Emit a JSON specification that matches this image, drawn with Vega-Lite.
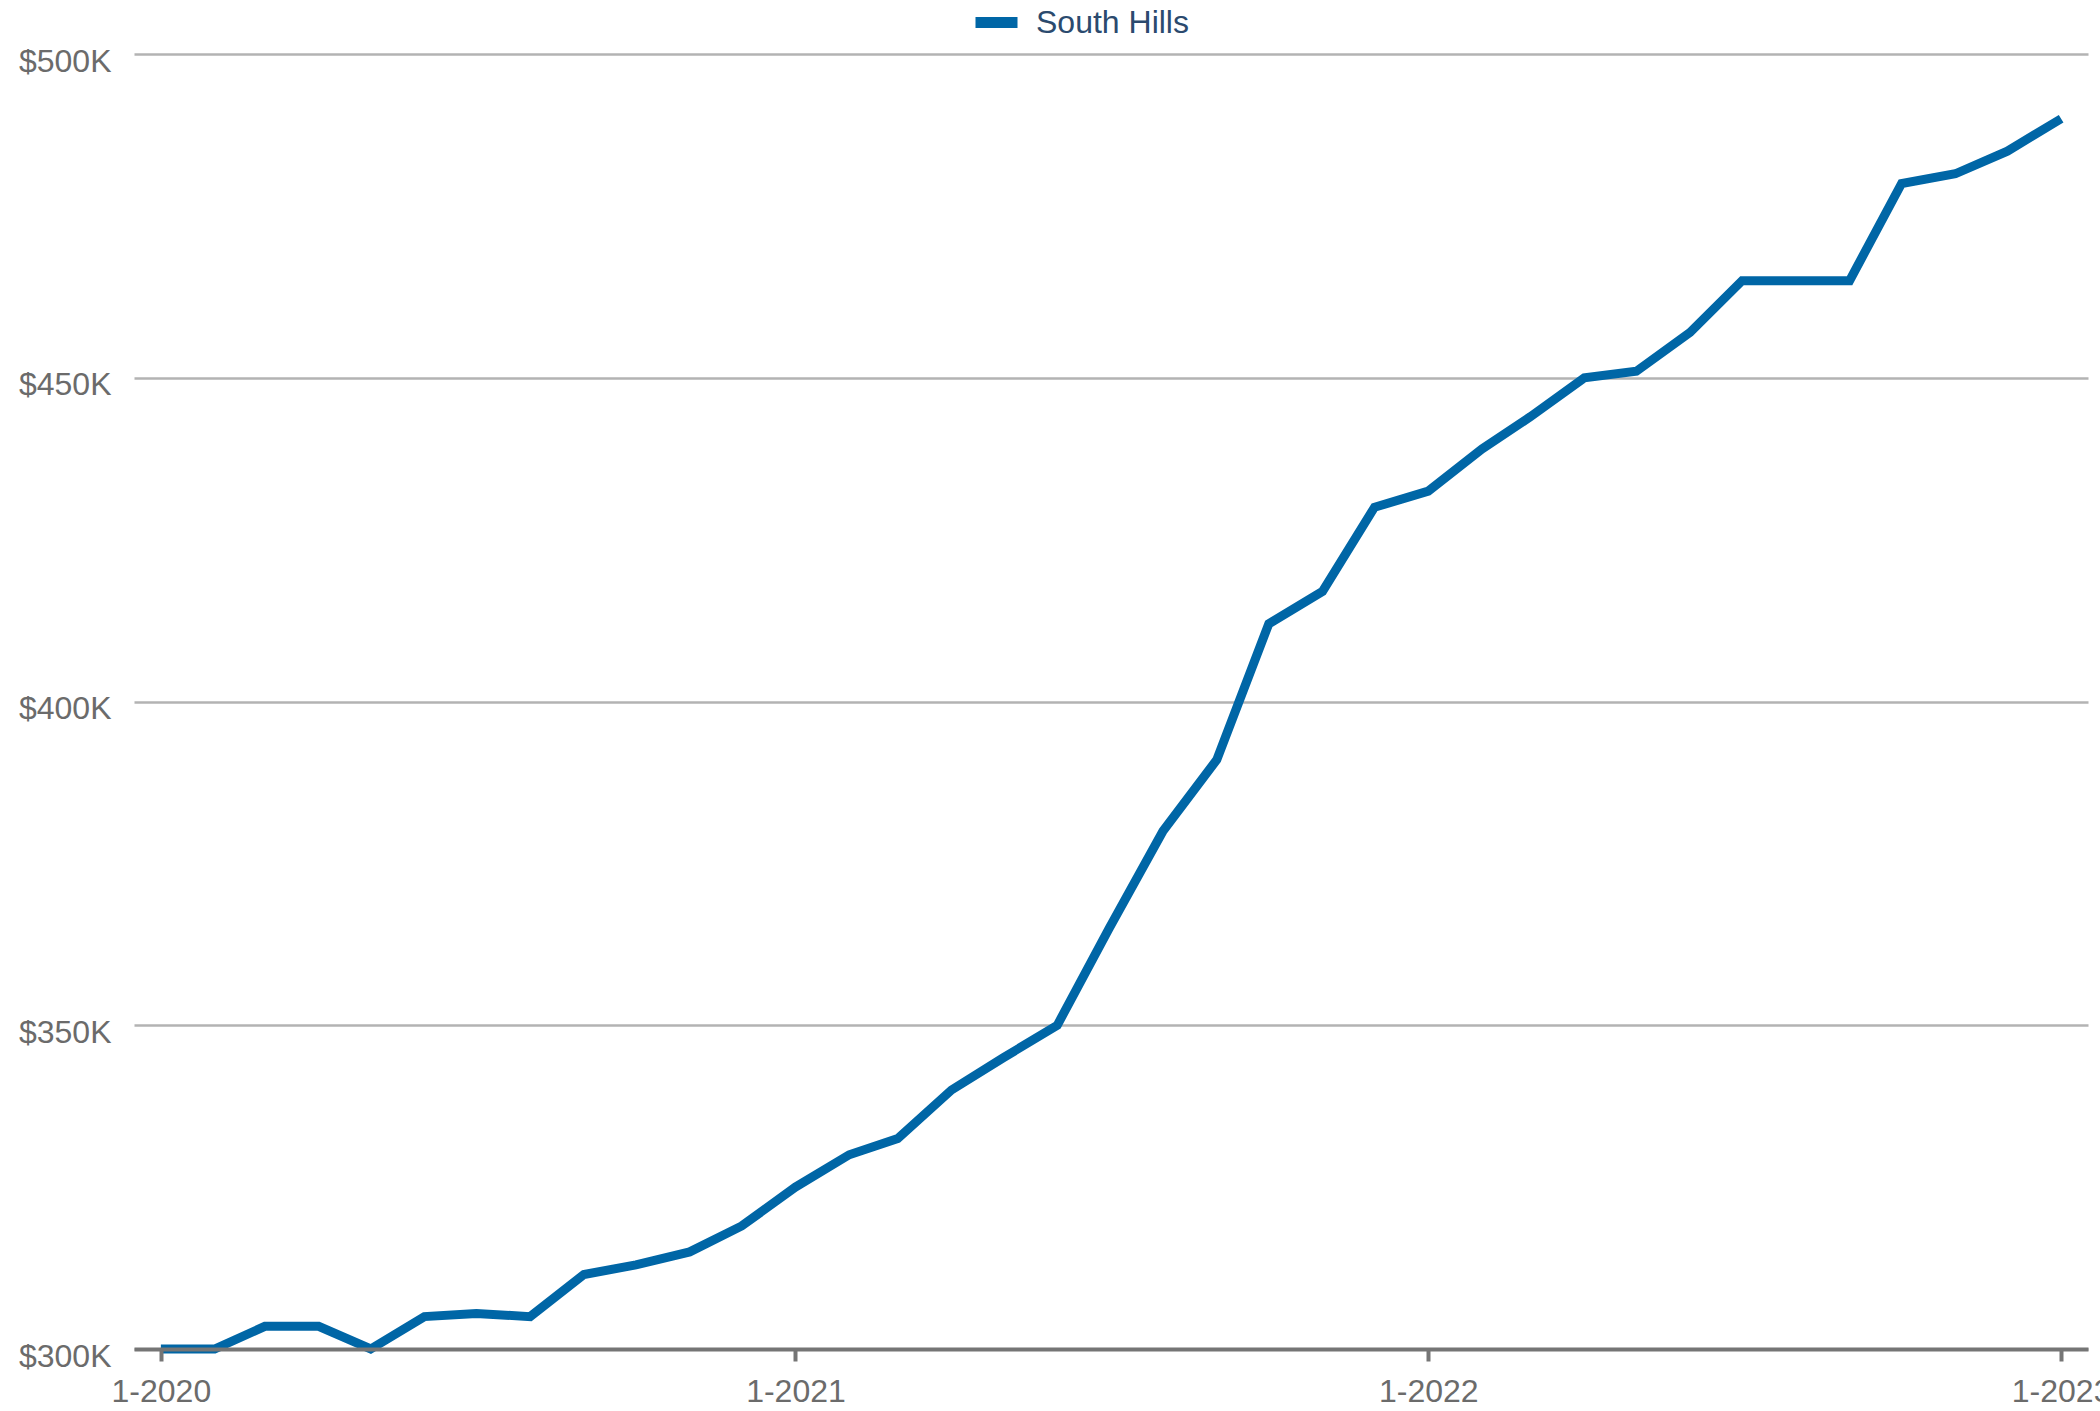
{
  "$schema": "https://vega.github.io/schema/vega-lite/v6.json",
  "autosize": "none",
  "width": 1954,
  "height": 1295,
  "padding": {"left": 134, "top": 54, "right": 12, "bottom": 62},
  "background": "white",
  "config": {
    "view": {"stroke": null},
    "font": "Liberation Sans"
  },
  "data": {
    "values": [
      {"month": "2020-01-01T00:00:00", "series": "South Hills", "price": 300000},
      {"month": "2020-02-01T00:00:00", "series": "South Hills", "price": 300000},
      {"month": "2020-03-01T00:00:00", "series": "South Hills", "price": 303500},
      {"month": "2020-04-01T00:00:00", "series": "South Hills", "price": 303500},
      {"month": "2020-05-01T00:00:00", "series": "South Hills", "price": 300000},
      {"month": "2020-06-01T00:00:00", "series": "South Hills", "price": 305000},
      {"month": "2020-07-01T00:00:00", "series": "South Hills", "price": 305500},
      {"month": "2020-08-01T00:00:00", "series": "South Hills", "price": 305000},
      {"month": "2020-09-01T00:00:00", "series": "South Hills", "price": 311500},
      {"month": "2020-10-01T00:00:00", "series": "South Hills", "price": 313000},
      {"month": "2020-11-01T00:00:00", "series": "South Hills", "price": 315000},
      {"month": "2020-12-01T00:00:00", "series": "South Hills", "price": 319000},
      {"month": "2021-01-01T00:00:00", "series": "South Hills", "price": 325000},
      {"month": "2021-02-01T00:00:00", "series": "South Hills", "price": 330000},
      {"month": "2021-03-01T00:00:00", "series": "South Hills", "price": 332500},
      {"month": "2021-04-01T00:00:00", "series": "South Hills", "price": 340000},
      {"month": "2021-05-01T00:00:00", "series": "South Hills", "price": 345000},
      {"month": "2021-06-01T00:00:00", "series": "South Hills", "price": 350000},
      {"month": "2021-07-01T00:00:00", "series": "South Hills", "price": 365000},
      {"month": "2021-08-01T00:00:00", "series": "South Hills", "price": 380000},
      {"month": "2021-09-01T00:00:00", "series": "South Hills", "price": 391000},
      {"month": "2021-10-01T00:00:00", "series": "South Hills", "price": 412000},
      {"month": "2021-11-01T00:00:00", "series": "South Hills", "price": 417000},
      {"month": "2021-12-01T00:00:00", "series": "South Hills", "price": 430000},
      {"month": "2022-01-01T00:00:00", "series": "South Hills", "price": 432500},
      {"month": "2022-02-01T00:00:00", "series": "South Hills", "price": 439000},
      {"month": "2022-03-01T00:00:00", "series": "South Hills", "price": 444000},
      {"month": "2022-04-01T00:00:00", "series": "South Hills", "price": 450000},
      {"month": "2022-05-01T00:00:00", "series": "South Hills", "price": 451000},
      {"month": "2022-06-01T00:00:00", "series": "South Hills", "price": 457000},
      {"month": "2022-07-01T00:00:00", "series": "South Hills", "price": 465000},
      {"month": "2022-08-01T00:00:00", "series": "South Hills", "price": 465000},
      {"month": "2022-09-01T00:00:00", "series": "South Hills", "price": 465000},
      {"month": "2022-10-01T00:00:00", "series": "South Hills", "price": 480000},
      {"month": "2022-11-01T00:00:00", "series": "South Hills", "price": 481500},
      {"month": "2022-12-01T00:00:00", "series": "South Hills", "price": 485000},
      {"month": "2023-01-01T00:00:00", "series": "South Hills", "price": 490000}
    ]
  },
  "mark": {"type": "line", "strokeWidth": 9, "strokeCap": "butt", "strokeJoin": "miter"},
  "encoding": {
    "x": {
      "field": "month",
      "type": "temporal",
      "scale": {"domain": ["2019-12-16T12:00:00", "2023-01-16T12:00:00"]},
      "axis": {
        "title": null,
        "format": "%-m-%Y",
        "values": [
          {"year": 2020, "month": 1, "date": 1},
          {"year": 2021, "month": 1, "date": 1},
          {"year": 2022, "month": 1, "date": 1},
          {"year": 2023, "month": 1, "date": 1}
        ],
        "grid": false,
        "domainColor": "#757575",
        "domainWidth": 4,
        "tickColor": "#757575",
        "tickWidth": 4,
        "tickSize": 12,
        "labelFontSize": 32,
        "labelColor": "#6b6b6b",
        "labelPadding": 15,
        "labelFlush": false,
        "labelOverlap": false,
        "zindex": 1
      }
    },
    "y": {
      "field": "price",
      "type": "quantitative",
      "scale": {"domain": [300000, 500000], "nice": false, "zero": false},
      "axis": {
        "title": null,
        "values": [300000, 350000, 400000, 450000, 500000],
        "labelExpr": "'$' + (datum.value / 1000) + 'K'",
        "domain": false,
        "ticks": false,
        "grid": true,
        "gridColor": "#b3b3b3",
        "gridWidth": 2.5,
        "labelFontSize": 32,
        "labelColor": "#6b6b6b",
        "labelPadding": 23,
        "labelOffset": 7
      }
    },
    "color": {
      "field": "series",
      "type": "nominal",
      "scale": {"domain": ["South Hills"], "range": ["#0066a6"]},
      "legend": {
        "title": null,
        "orient": "none",
        "legendX": 836,
        "legendY": -58,
        "symbolType": "stroke",
        "symbolStrokeWidth": 11,
        "symbolSize": 1764,
        "labelFontSize": 32,
        "labelColor": "#2b4a6e",
        "labelOffset": 13,
        "padding": 0
      }
    }
  }
}
